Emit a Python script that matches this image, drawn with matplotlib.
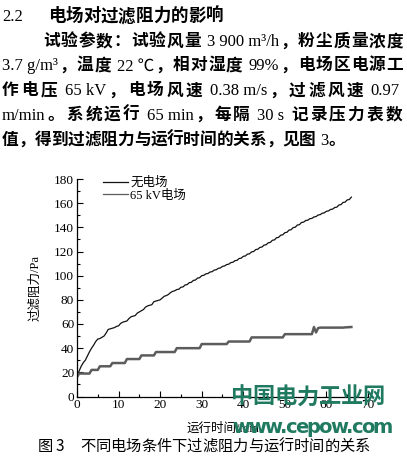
import re
import numpy as np
import matplotlib
matplotlib.use('Agg')
import matplotlib.pyplot as plt
from matplotlib.ticker import MultipleLocator
from matplotlib.lines import Line2D

plt.rcParams['font.family'] = ['Liberation Serif', 'Noto Sans CJK SC']

# time axis, one reading every 30 s
time_min = np.arange(0, 66.5, 0.5)

# filter resistance without electric field (Pa)
no_field = [
    17.0, 21.0, 25.0, 28.0, 30.0, 33.5, 37.0, 40.0, 42.5, 45.5,
    47.5, 48.0, 49.0, 50.0, 52.5, 55.5, 56.0, 56.5, 57.0, 58.0,
    58.5, 60.5, 61.5, 62.0, 62.5, 64.5, 66.0, 66.5, 67.0, 69.0,
    70.0, 71.0, 72.0, 74.0, 75.0, 75.5, 76.0, 78.5, 79.0, 79.5,
    80.0, 81.5, 83.0, 83.5, 84.5, 86.0, 87.0, 87.5, 88.5, 88.8,
    90.4, 90.7, 92.3, 92.6, 94.2, 94.5, 96.1, 96.4, 98.0, 98.3,
    100.0, 100.3, 101.5, 101.8, 103.0, 103.3, 104.6, 104.9, 106.1, 106.4,
    107.7, 108.0, 109.2, 109.5, 110.8, 111.1, 112.4, 112.7, 114.2, 114.5,
    116.0, 116.3, 117.8, 118.1, 119.7, 120.0, 121.6, 121.9, 123.4, 123.7,
    125.3, 125.6, 127.2, 127.5, 129.3, 129.6, 131.4, 131.7, 133.5, 133.8,
    135.6, 135.9, 137.7, 138.0, 139.8, 140.1, 141.9, 142.2, 144.0, 144.3,
    145.6, 145.9, 147.1, 147.4, 148.6, 148.9, 150.2, 150.5, 151.7, 152.0,
    153.3, 153.6, 154.8, 155.1, 156.4, 156.7, 158.5, 158.8, 160.6, 160.9,
    162.7, 163.0, 165.0,
]

# filter resistance with 65 kV field (Pa)
field_65kv = [
    16.0, 19.0, 19.0, 19.0, 19.0, 19.0, 19.0, 22.0, 22.0, 22.0,
    22.0, 25.0, 25.0, 25.0, 25.0, 25.0, 25.0, 27.7, 27.7, 27.7,
    27.7, 27.7, 27.7, 27.7, 31.0, 31.0, 31.0, 31.0, 31.0, 31.0,
    31.0, 34.0, 34.0, 34.0, 34.0, 34.0, 34.0, 34.0, 36.8, 36.8,
    36.8, 36.8, 36.8, 36.8, 36.8, 36.8, 36.8, 36.8, 40.0, 40.0,
    40.0, 40.0, 40.0, 40.0, 40.0, 40.0, 40.0, 40.0, 40.0, 40.0,
    43.4, 43.4, 43.4, 43.4, 43.4, 43.4, 43.4, 43.4, 43.4, 43.4,
    43.4, 43.4, 43.4, 45.5, 45.5, 45.5, 45.5, 45.5, 45.5, 45.5,
    45.5, 45.5, 45.5, 45.5, 48.9, 48.9, 48.9, 48.9, 48.9, 48.9,
    48.9, 48.9, 48.9, 48.9, 48.9, 48.9, 48.9, 48.9, 48.9, 48.9,
    51.6, 51.6, 51.6, 51.6, 51.6, 51.6, 51.6, 51.6, 51.6, 51.6,
    51.6, 51.6, 51.6, 51.6, 57.5, 53.0, 56.6, 57.0, 57.0, 57.0,
    57.0, 57.0, 57.0, 57.0, 57.0, 57.0, 57.0, 57.0, 57.0, 57.2,
    57.3, 57.4, 57.5,
]

series_labels = ['无电场', '65 kV电场']

heading_num = '2.2'
heading = '电场对过滤阻力的影响'
paragraph = [
    '试验参数：试验风量 3 900 m³/h，粉尘质量浓度',
    '3.7 g/m³，温度 22 ℃，相对湿度 99%，电场区电源工',
    '作电压 65 kV，电场风速 0.38 m/s，过滤风速 0.97',
    'm/min。系统运行 65 min，每隔 30 s 记录压力表数',
    '值，得到过滤阻力与运行时间的关系，见图 3。',
]
caption = '不同电场条件下过滤阻力与运行时间的关系'
watermark_cn = '中国电力工业网'
watermark_url = 'www.cepow.com'

W, H, DPI = 407, 457, 100
fig = plt.figure(figsize=(W / DPI, H / DPI), dpi=DPI)
renderer = fig.canvas.get_renderer()

LATIN = r"[A-Za-z0-9.%/³℃]+(?: [A-Za-z0-9.%/³℃]+)*"
CJK = 'Noto Sans CJK SC'
PUNCT = '，。：'


def text_line(s, x0, x1, yc, size, weight='normal', color='black',
              each=False, latin_family=None, latin_weight=None, pad=0.0):
    # lay a line out token by token so it fills x0..x1 (pixels)
    toks = list(s) if each else re.findall(LATIN + r"|\S", s)
    em = size * DPI / 72
    n = len(toks)
    items = []
    for i, tk in enumerate(toks):
        if re.fullmatch(LATIN, tk):
            fam = latin_family or ['Liberation Serif', CJK]
            wt = latin_weight or weight
            t = fig.text(0, 0, tk, fontsize=size, family=fam, weight=wt)
            w = t.get_window_extent(renderer).width
            t.remove()
            pl = 0 if i == 0 else pad * em
            pr = 0 if (i == n - 1 or toks[i + 1] in PUNCT) else pad * em
        else:
            fam, wt = [CJK], weight
            w, pl, pr = em, 0, 0
        items.append((tk, fam, wt, w, pl, pr))
    total = sum(w + pl + pr for _, _, _, w, pl, pr in items)
    gap = (x1 - x0 - total) / max(n - 1, 1)
    x = x0
    for tk, fam, wt, w, pl, pr in items:
        fig.text((x + pl) / W, 1 - (yc + 0.38 * em) / H, tk, fontsize=size,
                 family=fam, weight=wt, color=color, va='baseline')
        x += pl + w + pr + gap


# text above the chart
fig.text(2 / W, 1 - (14.5 + 6.3) / H, heading_num, fontsize=12,
         family='Liberation Serif', va='baseline')
text_line(heading, 48, 223, 14.5, 12.6, weight='bold')
body = dict(size=12, weight='bold', latin_weight='normal', pad=0.3)
text_line(paragraph[0], 43, 403, 40, **body)
text_line(paragraph[1], 2, 403, 64, **body)
text_line(paragraph[2], 2, 400, 89, **body)
text_line(paragraph[3], 2, 402, 113.5, **body)
text_line(paragraph[4], 2, 345, 138.5, **body)

# the chart
ax = fig.add_axes([77 / W, 1 - 396.5 / H, 291 / W, 217.5 / H])
ax.plot(time_min, no_field, color='#111111', lw=0.9, label=series_labels[0])
ax.plot(time_min, field_65kv, color='#5c5c5c', lw=1.8, label=series_labels[1])

ax.set_xlim(0, 70)
ax.set_ylim(0, 180)
ax.xaxis.set_major_locator(MultipleLocator(10))
ax.xaxis.set_minor_locator(MultipleLocator(5))
ax.yaxis.set_major_locator(MultipleLocator(20))
ax.yaxis.set_minor_locator(MultipleLocator(10))
ax.tick_params(which='both', direction='in', width=0.8, labelsize=9.5, pad=2)
ax.tick_params(which='major', length=4.5)
ax.tick_params(which='minor', length=2.5)
for side in ['top', 'right']:
    ax.spines[side].set_visible(False)
for side in ['left', 'bottom']:
    ax.spines[side].set_linewidth(0.9)

ax.set_xlabel('运行时间/min', fontsize=9)
ax.xaxis.set_label_coords(0.5, -0.122)
ax.set_ylabel('过滤阻力/Pa', fontsize=9)
ax.yaxis.set_label_coords(-0.124, 0.5)

# legend keys are drawn thin in the original
handles = [Line2D([], [], color='#111111', lw=0.9),
           Line2D([], [], color='#5c5c5c', lw=0.9)]
ax.legend(handles, series_labels, loc='upper left', bbox_to_anchor=(0.089, 1.01),
          frameon=False, fontsize=9, handlelength=2.0, handletextpad=0.2,
          labelspacing=0.05, borderpad=0, borderaxespad=0)

# caption
fig.text(38 / W, 1 - (445 + 5.8) / H, '图', fontsize=11, family=CJK, va='baseline')
fig.text(56 / W, 1 - (445 + 5.8) / H, '3', fontsize=11, family=CJK, va='baseline')
text_line(caption, 80, 370, 445, 11)

# site watermark over the chart
text_line(watermark_cn, 230, 385, 395, 16, weight='bold', color='#1f7a60', each=True)
text_line(watermark_url, 232, 393, 426, 14, weight='bold', color='#1f7a60', each=True,
          latin_family=['DejaVu Sans'])

fig.savefig('out.png', dpi=DPI)
